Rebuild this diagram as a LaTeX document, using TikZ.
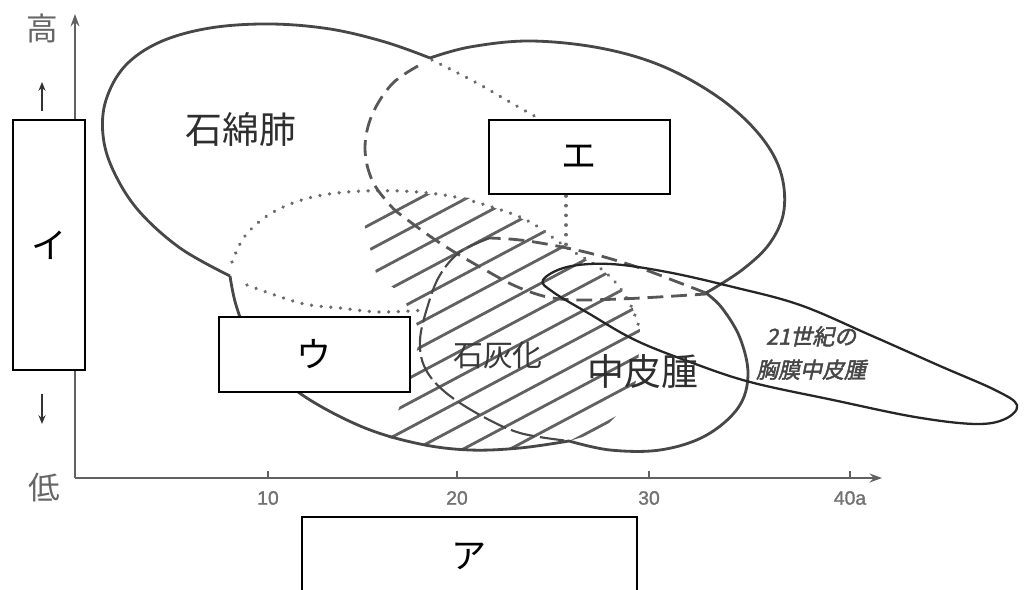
\documentclass[tikz,border=0pt]{standalone}
\usepackage{fontspec}
\setmainfont{Noto Sans CJK JP}
\newfontfamily\cjkit[FakeSlant=0.22,FakeBold=2]{Noto Sans CJK JP}
\newfontfamily\numfont[FakeBold=1.5]{Liberation Sans}
\usetikzlibrary{arrows.meta}
\tikzset{
  outline/.style={draw=black!72, line width=1.6pt, line join=round},
  thinoutline/.style={draw=black!85, line width=1.3pt},
  dashline/.style={draw=black!66, line width=1.6pt, dash pattern=on 9pt off 4.5pt},
  longdash/.style={draw=black!72, line width=1.2pt, dash pattern=on 14pt off 3pt},
  dotline/.style={draw=black!58, line width=2.1pt, dash pattern=on 0.01pt off 5.5pt, line cap=round},
  hatchline/.style={draw=black!62, line width=1.6pt},
  labelbox/.style={draw=black, line width=0.9pt, fill=white, inner sep=0pt, font=\fontsize{20}{24}\selectfont},
  axisline/.style={draw=black!62, line width=1.6pt},
  bigjp/.style={text=black!82, font=\fontsize{21}{24}\selectfont, inner sep=0pt},
  midjp/.style={text=black!78, font=\fontsize{17}{20}\selectfont, inner sep=0pt},
  itjp/.style={text=black!72, font=\cjkit\fontsize{12.5}{19}\selectfont, align=center, inner sep=0pt},
  axisjp/.style={text=black!60, font=\fontsize{18}{20}\selectfont, inner sep=0pt},
  numlabel/.style={text=black!55, font=\numfont\fontsize{11}{13}\selectfont, inner sep=0pt},
  smallarrow/.style={draw=black!80, line width=0.9pt, -{Stealth[length=5pt,width=4pt]}}
}
\begin{document}
\begin{tikzpicture}[x=0.02cm,y=-0.02cm]
\fill[white] (0,0) rectangle (1024,590);
\useasboundingbox (0,0) rectangle (1024,590);

% hatching of the calcification region
\begin{scope}
\clip plot coordinates {(362,215) (420,193) (470,198) (530,222) (566,247) (605,272) (630,300) (640,330) (638,370) (632,400) (600,432) (569,441) (520,448) (470,450) (420,445) (385,437) (395,420) (413,367) (421,333) (400,292) (377,277)} -- cycle;
\foreach \d in {350,372,...,680}
  \draw[hatchline] ({0.469*\d-450*0.883},{0.883*\d+450*0.469}) -- ({0.469*\d+450*0.883},{0.883*\d-450*0.469});
\end{scope}

% notches
\coordinate (ntop) at (430,58);
\coordinate (nleft) at (230,276);
\coordinate (nbot) at (569,441);
\coordinate (nright) at (706,293);

% dotted inner boundaries
\draw[dotline] plot[smooth,tension=0.6] coordinates {(432,60) (475,82) (515,105) (545,122)};
\draw[dotline] (566,196) -- (566,247);
\draw[dotline] plot[smooth,tension=0.6] coordinates {(232,262) (245,236) (270,214) (305,199) (347,192) (400,191) (450,196) (495,208) (530,222) (566,247) (605,272) (628,300) (640,330)};
\draw[dotline] plot[smooth,tension=0.6] coordinates {(247,285) (300,303) (340,308) (380,312) (425,310)};

% dashed inner boundaries
\draw[dashline] plot[smooth,tension=0.6] coordinates {(418,66) (392,84) (372,115) (365,148) (372,180) (390,205) (405,218) (440,243) (480,267) (520,288) (560,299) (620,299) (706,294)};
\draw[dashline] plot[smooth,tension=0.6] coordinates {(706,293) (680,283) (640,268) (597,255) (557,246) (520,240) (490,238)};
\draw[longdash] plot[smooth,tension=0.6] coordinates {(490,238) (460,252) (440,275) (428,305) (420,340) (425,368) (445,392) (480,415) (520,433) (569,441)};

% solid outer outline
\draw[outline] plot[smooth,tension=0.6] coordinates {(430,58) (385,42) (330,29) (270,24) (210,28) (160,42) (125,66) (106,100) (103,135) (113,170) (138,210) (180,248) (230,276)};
\draw[outline] plot[smooth,tension=0.6] coordinates {(230,276) (236,305) (250,340) (275,372) (310,400) (365,428) (420,444) (470,450) (520,448) (569,441)};
\draw[outline] plot[smooth,tension=0.6] coordinates {(569,441) (610,450) (660,450) (705,436) (738,408) (748,375) (740,338) (722,308) (706,293)};
\draw[outline] plot[smooth,tension=0.6] coordinates {(706,293) (742,270) (770,243) (784,210) (780,170) (758,133) (718,97) (662,66) (600,48) (530,41) (470,47) (430,58)};

% 21st century pleural mesothelioma
\draw[thinoutline] plot[smooth cycle,tension=0.6] coordinates {(543,280) (567,267) (610,264) (667,272) (733,287) (800,305) (870,335) (940,366) (995,390) (1017,405) (1005,419) (975,424) (915,417) (833,400) (750,382) (690,362) (635,340) (588,313) (553,292)};

% region labels
\node[bigjp] (asb) at (241,130) {石綿肺};
\node[midjp] (calc) at (498,355) {石灰化};
\node[bigjp] (meso) at (643,372) {中皮腫};
\node[itjp] (meso21) at (811,353) {21世紀の\\胸膜中皮腫};

% axes
\coordinate (O) at (75,478);
\coordinate (ytop) at (75,14);
\coordinate (xend) at (882,478);
\draw[axisline,-{Stealth[length=7pt,width=5pt]}] (O) -- (ytop);
\draw[axisline,-{Stealth[length=7pt,width=5pt]}] (O) -- (xend);
\foreach \x in {268,457,649,850} \draw[axisline, line width=1pt] (\x,478) -- (\x,471);
\node[numlabel] (t10) at (268,498) {10};
\node[numlabel] (t20) at (457,498) {20};
\node[numlabel] (t30) at (649,498) {30};
\node[numlabel] (t40) at (850,498) {40a};

\node[axisjp] (high) at (42,28) {高};
\node[axisjp] (low) at (44,488) {低};
\coordinate (ua1) at (42,111);
\coordinate (ua2) at (42,82);
\coordinate (da1) at (42,394);
\coordinate (da2) at (42,424);
\draw[smallarrow] (ua1) -- (ua2);
\draw[smallarrow] (da1) -- (da2);

% answer boxes
\node[labelbox, minimum width=1.44cm, minimum height=5cm] (boxI) at (49,245) {イ};
\node[labelbox, minimum width=3.62cm, minimum height=1.48cm] (boxE) at (579.5,157) {エ};
\node[labelbox, minimum width=3.82cm, minimum height=1.5cm] (boxU) at (314.5,354.5) {ウ};
\node[labelbox, minimum width=6.7cm, minimum height=1.56cm] (boxA) at (469.5,556) {ア};
\end{tikzpicture}
\end{document}
